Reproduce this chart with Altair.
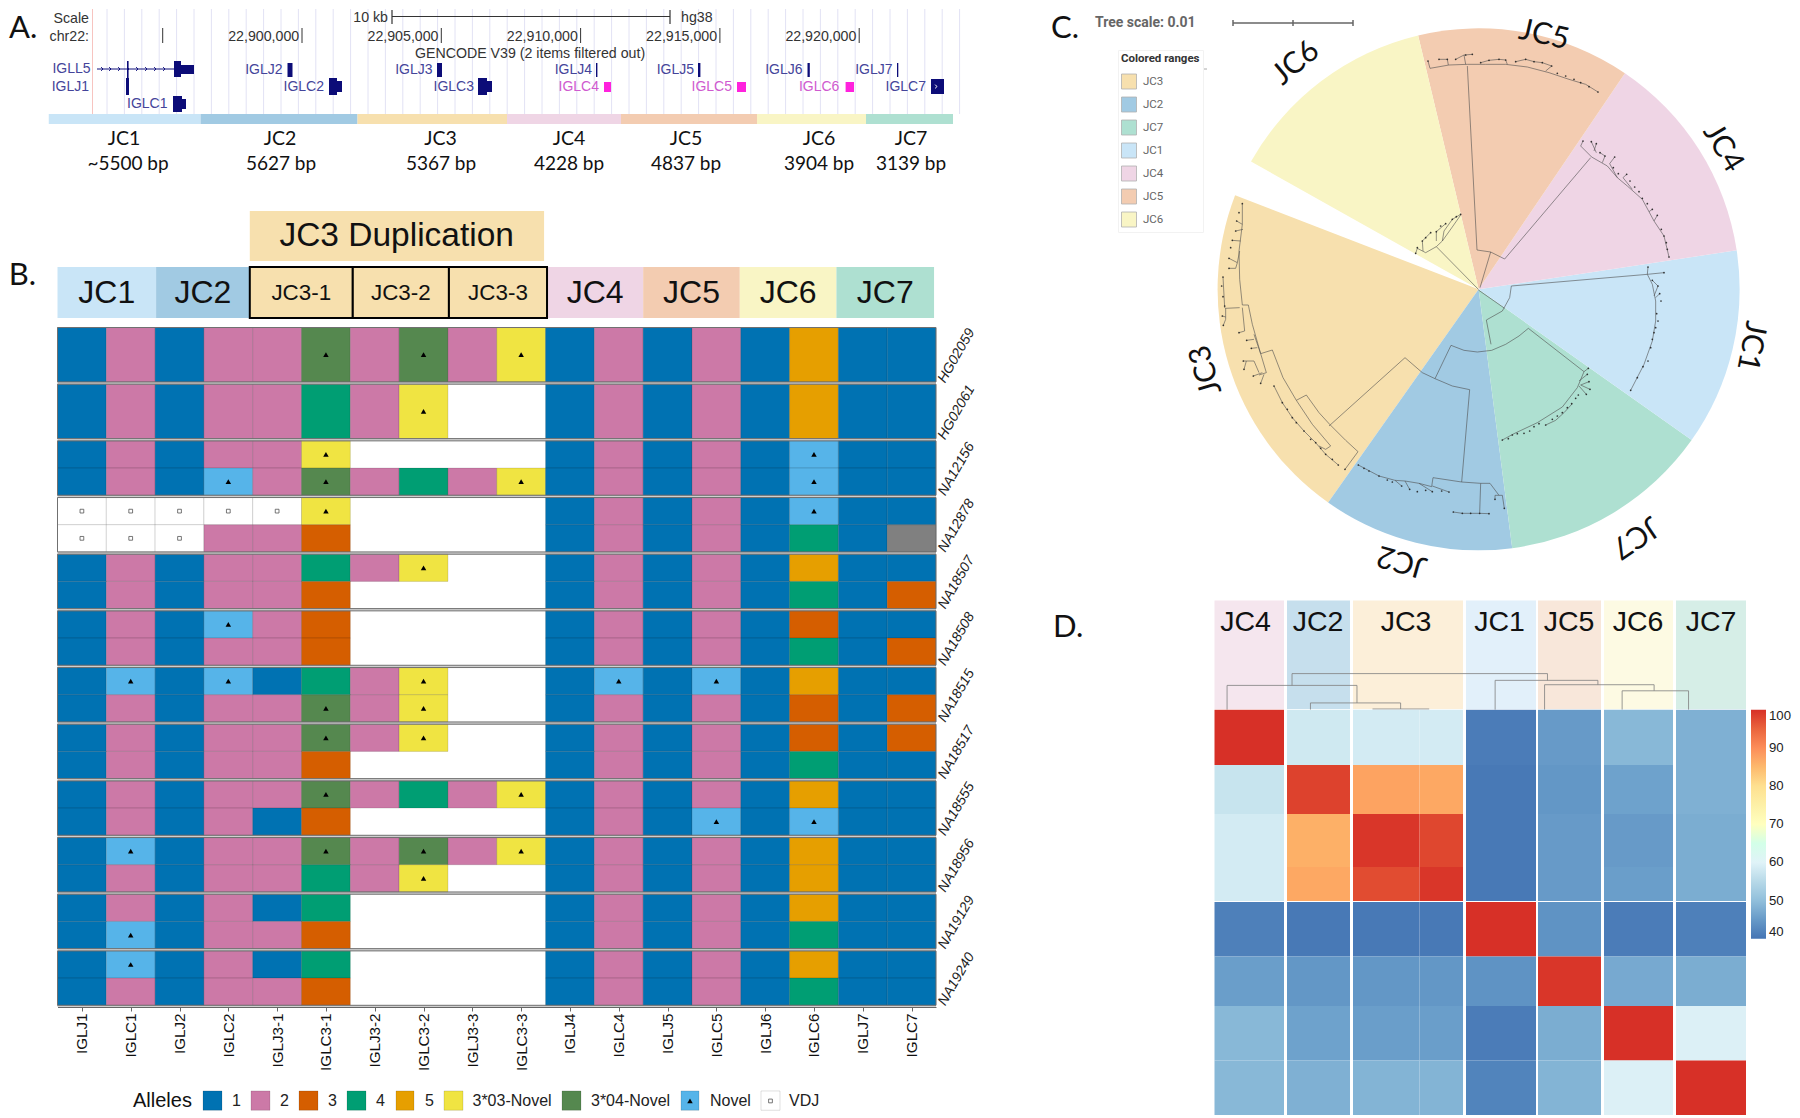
import json
import numpy as np
import pandas as pd
import altair as alt

ARIAL = "Liberation Sans"
LATO = "Lato"

# ---------- shared palettes ----------
JC_NAMES = ["JC1", "JC2", "JC3", "JC4", "JC5", "JC6", "JC7"]
JC_COLORS = ["#c9e5f7", "#a1cae3", "#f7e0ae", "#efd5e5", "#f3ccb1", "#f9f5c5", "#aee0d1"]
JC_FILL = dict(zip(JC_NAMES, JC_COLORS))


def texts(rows, xs, ys, xa=None, ya=None, **mark):
    df = pd.DataFrame(rows, columns=["x", "y", "t"])
    return alt.Chart(df).mark_text(**mark).encode(
        x=alt.X("x:Q", scale=xs, axis=xa, title=None),
        y=alt.Y("y:Q", scale=ys, axis=ya, title=None),
        text="t:N",
    )


def rules(rows, xs, ys, **mark):
    df = pd.DataFrame(rows, columns=["x", "x2", "y", "y2"])
    return alt.Chart(df).mark_rule(**mark).encode(
        x=alt.X("x:Q", scale=xs, axis=None), x2="x2:Q",
        y=alt.Y("y:Q", scale=ys, axis=None), y2="y2:Q",
    )


def rects(rows, xs, ys, xa=None, ya=None, **mark):
    df = pd.DataFrame(rows, columns=["x", "x2", "y", "y2"])
    return alt.Chart(df).mark_rect(**mark).encode(
        x=alt.X("x:Q", scale=xs, axis=xa, title=None), x2="x2:Q",
        y=alt.Y("y:Q", scale=ys, axis=ya, title=None), y2="y2:Q",
    )


# ======================= PANEL A : genome browser =======================
def bp(px):
    return 22900000 + (px - 302) * 35.894


A_W, A_H = 972, 196
ax = alt.Scale(domain=[bp(8), bp(980)], nice=False, zero=False)
ay = alt.Scale(domain=[8, 204], reverse=True, nice=False, zero=False)

A_TICKS = [22895000, 22900000, 22905000, 22910000, 22915000, 22920000]
A_TICK_LABELS = ["22,900,000", "22,905,000", "22,910,000", "22,915,000", "22,920,000"]

grid_bp = [bp(p) for p in np.arange(107.0, 972.0, 17.4)]
a_grid = rules([[g, g, 8, 113] for g in grid_bp], ax, ay, color="#e2e2f4", strokeWidth=1)
a_pink = rules([[bp(92.5), bp(92.5), 8, 113]], ax, ay, color="#f7c4c0", strokeWidth=1)

a_scale = rules([[bp(392), bp(670), 15.5, 15.5], [bp(392), bp(392), 9, 23], [bp(670), bp(670), 9, 23]],
                ax, ay, color="#333333", strokeWidth=1.2)
a_ticks = rules([[t, t, 27, 42] for t in A_TICKS], ax, ay, color="#333333", strokeWidth=1)

a_t_right = texts(
    [[bp(89), 18, "Scale"], [bp(388), 17, "10 kb"], [bp(89), 36, "chr22:"]]
    + [[t - 100, 36, l] for t, l in zip(A_TICKS[1:], A_TICK_LABELS)],
    ax, ay, font=ARIAL, fontSize=14.2, align="right", baseline="middle", color="#333333")
a_t_left = texts([[bp(681), 17, "hg38"]], ax, ay, font=ARIAL, fontSize=14.2, align="left", baseline="middle", color="#333333")
a_t_center = texts([[bp(530), 52.5, "GENCODE V39 (2 items filtered out)"]], ax, ay, font=ARIAL, fontSize=14.2,
                   align="center", baseline="middle", color="#333333")

GENE_LABELS = [("IGLL5", 90.6, 68), ("IGLJ1", 89, 86), ("IGLC1", 167.5, 103), ("IGLJ2", 282.5, 69), ("IGLC2", 324, 86),
               ("IGLJ3", 432.5, 69), ("IGLC3", 474, 86), ("IGLJ4", 592, 69), ("IGLJ5", 694, 69),
               ("IGLJ6", 802.5, 69), ("IGLJ7", 892.5, 69), ("IGLC7", 926, 86)]
PINK_LABELS = [("IGLC4", 599, 86), ("IGLC5", 732, 86), ("IGLC6", 839.4, 86)]
a_gl = texts([[bp(p), y, n] for n, p, y in GENE_LABELS], ax, ay, font=ARIAL, fontSize=14, align="right",
             baseline="middle", color="#44449a")
a_pl = texts([[bp(p), y, n] for n, p, y in PINK_LABELS], ax, ay, font=ARIAL, fontSize=14, align="right",
             baseline="middle", color="#cf5acf")

NAVY_BOXES = [(126, 129, 77, 94), (127, 128.6, 60, 77), (174, 181, 60, 76), (181, 194, 64, 73),
              (173, 182, 95, 111), (182, 186, 98, 108),
              (287.5, 292.5, 62, 76), (329, 337, 77, 94), (337, 342, 80, 91),
              (437, 442, 62, 76), (478, 487, 77, 94), (487, 492, 80, 91),
              (596, 597.4, 62, 76), (698, 700.4, 62, 76), (807.5, 809.8, 62, 76), (897, 898.3, 62, 76),
              (931, 944, 78, 93)]
PINK_BOXES = [(604, 611, 81, 91), (737, 746, 81, 91), (845.6, 854, 81, 91)]
a_line = rules([[bp(97), bp(174), 68, 68]], ax, ay, color="#10107c", strokeWidth=1)
a_navy = rects([[bp(a), bp(b), c, d] for a, b, c, d in NAVY_BOXES], ax, ay, color="#0c0c78")
a_pb = rects([[bp(a), bp(b), c, d] for a, b, c, d in PINK_BOXES], ax, ay, color="#ff22dd")
CHEV = [103, 111, 120, 129, 138, 147, 156, 165]
a_chev = alt.Chart(pd.DataFrame({"x": [bp(p) for p in CHEV], "y": [68] * len(CHEV)})).mark_point(
    shape="M-1,-1L0,0L-1,1", size=14, filled=False, color="#10107c", strokeWidth=1, opacity=1).encode(
    x=alt.X("x:Q", scale=ax, axis=None), y=alt.Y("y:Q", scale=ay, axis=None))
a_chev2 = alt.Chart(pd.DataFrame({"x": [bp(937)], "y": [85.5]})).mark_point(
    shape="M-1,-1L0,0L-1,1", size=14, filled=False, color="#ffffff", strokeWidth=1, opacity=1).encode(
    x=alt.X("x:Q", scale=ax, axis=None), y=alt.Y("y:Q", scale=ay, axis=None))

A_STRIP = [48.75, 200.6, 357.5, 507, 621, 757, 866, 953]
A_BP = ["~5500 bp", "5627 bp", "5367 bp", "4228 bp", "4837 bp", "3904 bp", "3139 bp"]
A_NAME_X = [124, 280, 440.6, 569, 686, 819, 911]
A_BP_X = [128, 281, 441, 569, 686, 819, 911]
strip_df = pd.DataFrame({"x": [bp(p) for p in A_STRIP[:-1]], "x2": [bp(p) for p in A_STRIP[1:]],
                         "y": [113] * 7, "y2": [123] * 7, "jc": JC_NAMES})
a_strip = alt.Chart(strip_df).mark_rect().encode(
    x=alt.X("x:Q", scale=ax, axis=None), x2="x2:Q",
    y=alt.Y("y:Q", scale=ay, axis=None), y2="y2:Q",
    color=alt.Color("jc:N", scale=alt.Scale(domain=JC_NAMES, range=JC_COLORS), legend=None))
a_names = texts([[bp(p), 138, n] for p, n in zip(A_NAME_X, JC_NAMES)], ax, ay, font=LATO, fontSize=19.5,
                align="center", baseline="middle", color="#111111")
a_bps = texts([[bp(p), 163, n] for p, n in zip(A_BP_X, A_BP)], ax, ay, font=LATO, fontSize=19,
              align="center", baseline="middle", color="#111111")
a_letter = texts([[bp(9), 28, "A."]], ax, ay, font=LATO, fontSize=31, align="left", baseline="middle", color="#111111")

panel_a = alt.layer(a_grid, a_pink, a_scale, a_ticks, a_t_right, a_t_left, a_t_center, a_gl, a_pl, a_line, a_chev,
                    a_navy, a_pb, a_chev2, a_strip, a_names, a_bps, a_letter).properties(width=A_W, height=A_H)

# ======================= PANEL B : allele grid =======================
GENES = ["IGLJ1", "IGLC1", "IGLJ2", "IGLC2", "IGLJ3-1", "IGLC3-1", "IGLJ3-2", "IGLC3-2", "IGLJ3-3", "IGLC3-3",
         "IGLJ4", "IGLC4", "IGLJ5", "IGLC5", "IGLJ6", "IGLC6", "IGLJ7", "IGLC7"]
SAMPLES = ["HG02059", "HG02061", "NA12156", "NA12878", "NA18507", "NA18508", "NA18515", "NA18517", "NA18555",
           "NA18956", "NA19129", "NA19240"]
# 1-5 alleles, Y 3*03-Novel, G 3*04-Novel, N Novel, V VDJ, X other, 0 empty
HAPS = [
    ["1 2 1 2 2 G 2 G 2 Y 1 2 1 2 1 5 1 1"],
    ["1 2 1 2 2 4 2 Y 0 0 1 2 1 2 1 5 1 1"],
    ["1 2 1 2 2 Y 0 0 0 0 1 2 1 2 1 N 1 1", "1 2 1 N 2 G 2 4 2 Y 1 2 1 2 1 N 1 1"],
    ["V V V V V Y 0 0 0 0 1 2 1 2 1 N 1 1", "V V V 2 2 3 0 0 0 0 1 2 1 2 1 4 1 X"],
    ["1 2 1 2 2 4 2 Y 0 0 1 2 1 2 1 5 1 1", "1 2 1 2 2 3 0 0 0 0 1 2 1 2 1 4 1 3"],
    ["1 2 1 N 2 3 0 0 0 0 1 2 1 2 1 3 1 1", "1 2 1 2 2 3 0 0 0 0 1 2 1 2 1 4 1 3"],
    ["1 N 1 N 1 4 2 Y 0 0 1 N 1 N 1 5 1 1", "1 2 1 2 2 G 2 Y 0 0 1 2 1 2 1 3 1 3"],
    ["1 2 1 2 2 G 2 Y 0 0 1 2 1 2 1 3 1 3", "1 2 1 2 2 3 0 0 0 0 1 2 1 2 1 4 1 1"],
    ["1 2 1 2 2 G 2 4 2 Y 1 2 1 2 1 5 1 1", "1 2 1 2 1 3 0 0 0 0 1 2 1 N 1 N 1 1"],
    ["1 N 1 2 2 G 2 G 2 Y 1 2 1 2 1 5 1 1", "1 2 1 2 2 4 2 Y 0 0 1 2 1 2 1 5 1 1"],
    ["1 2 1 2 1 4 0 0 0 0 1 2 1 2 1 5 1 1", "1 N 1 2 2 3 0 0 0 0 1 2 1 2 1 4 1 1"],
    ["1 N 1 2 1 4 0 0 0 0 1 2 1 2 1 5 1 1", "1 2 1 2 2 3 0 0 0 0 1 2 1 2 1 4 1 1"],
]
ALLELE_NAME = {"1": "1", "2": "2", "3": "3", "4": "4", "5": "5", "Y": "3*03-Novel", "G": "3*04-Novel",
               "N": "Novel", "V": "VDJ"}
ALLELES = ["1", "2", "3", "4", "5", "3*03-Novel", "3*04-Novel", "Novel", "VDJ"]
ALLELE_COLORS = ["#0072b2", "#cc79a7", "#d55e00", "#009e73", "#e69f00", "#f0e442", "#55884f", "#56b4e9", "#ffffff"]

B_W, B_H = 928, 802
bx = alt.Scale(domain=[0, 18], range=[49.5, 928], nice=False, zero=False)
by = alt.Scale(domain=[-2.152, 12], reverse=True, nice=False, zero=False)


def col(px):
    return (px - 57.5) / 48.806


def row(py):
    return (py - 326.0) / 56.67


x_label_expr = "{}[round(datum.value - 0.5)]".format(json.dumps(GENES))
y_label_expr = "{}[round(datum.value - 0.5)]".format(json.dumps(SAMPLES))
BXA = alt.Axis(values=[i + 0.5 for i in range(18)], labelExpr=x_label_expr, labelAngle=270, labelAlign="right",
               labelBaseline="middle", labelFont=ARIAL, labelFontSize=15.2, labelColor="#111111", labelPadding=2,
               tickColor="#666666", tickSize=4, domainColor="#666666", grid=False, labelOverlap=False,
               labelBound=False)
BYA = alt.Axis(orient="right", values=[i + 0.5 for i in range(12)], labelExpr=y_label_expr, labelAngle=300,
               labelAlign="center", labelBaseline="middle", labelFont=ARIAL, labelFontSize=14,
               labelFontStyle="italic", labelColor="#222222", labelPadding=20, ticks=False, domain=False, grid=False,
               labelOverlap=False, labelBound=False)
B_AX = {"xa": BXA, "ya": BYA}

cells, tri, squ, gray = [], [], [], []
for s, haps in enumerate(HAPS):
    n = len(haps)
    h_size = 0.96 / n
    for h, line in enumerate(haps):
        y0 = s + 0.01 + h * h_size
        for c, code in enumerate(line.split()):
            if code == "0":
                continue
            if code == "X":
                gray.append([c, c + 1, y0, y0 + h_size])
                continue
            cells.append({"x": c, "x2": c + 1, "y": y0, "y2": y0 + h_size, "allele": ALLELE_NAME[code],
                          "gene": GENES[c], "sample": SAMPLES[s]})
            if code in "YGN":
                tri.append({"x": c + 0.5, "y": y0 + h_size / 2})
            if code == "V":
                squ.append({"x": c + 0.5, "y": y0 + h_size / 2})

# allele key below the grid: swatches, labels
KEY_SWATCH = [(203, 222), (251, 270), (299, 318), (347, 366), (396, 414), (444, 463), (562, 581), (681, 699), (761, 780)]
KEY_LABEL_X = [232, 280, 328, 376, 425, 472.5, 591, 710, 789]
KEY_TOP, KEY_BOTTOM, KEY_MID = 1090, 1109.3, 1100
key_cells = [{"x": col(a), "x2": col(b), "y": row(KEY_TOP), "y2": row(KEY_BOTTOM), "allele": n, "gene": "", "sample": ""}
             for (a, b), n in zip(KEY_SWATCH, ALLELES)]
tri.append({"x": col(690), "y": row(KEY_MID)})
squ.append({"x": col(770.5), "y": row(KEY_MID)})

b_bg = rects([[0, 18, 0, 12]], bx, by, color="#cfcfcf", **B_AX)
b_white = rects([[0, 18, s + 0.01, s + 0.97] for s in range(12)], bx, by, color="#ffffff", **B_AX)
b_cells = alt.Chart(pd.DataFrame(cells + key_cells)).mark_rect(stroke="#000000", strokeOpacity=0.16, strokeWidth=0.8).encode(
    x=alt.X("x:Q", scale=bx, title=None, axis=BXA),
    x2="x2:Q",
    y=alt.Y("y:Q", scale=by, title=None, axis=BYA),
    y2="y2:Q",
    color=alt.Color("allele:N", scale=alt.Scale(domain=ALLELES, range=ALLELE_COLORS), legend=None),
)
b_key_text = texts([[col(p), row(KEY_MID), n] for p, n in zip(KEY_LABEL_X, ALLELES)], bx, by, font=ARIAL, fontSize=16,
                   align="left", baseline="middle", color="#222222", **B_AX)
b_key_title = texts([[col(133), row(KEY_MID), "Alleles"]], bx, by, font=ARIAL, fontSize=20, align="left",
                    baseline="middle", color="#111111", **B_AX)
b_gray = rects(gray, bx, by, color="#808080", stroke="#000000", strokeOpacity=0.16, **B_AX)
b_frame = rects([[0, 18, s + 0.01, s + 0.97] for s in range(12)], bx, by, fill=None, fillOpacity=0,
                stroke="#707070", strokeWidth=1, **B_AX)
b_tri = alt.Chart(pd.DataFrame(tri)).mark_point(shape="triangle-up", filled=True, color="#000000", size=30, opacity=1).encode(
    x=alt.X("x:Q", scale=bx, axis=BXA, title=None), y=alt.Y("y:Q", scale=by, axis=BYA, title=None))
b_squ = alt.Chart(pd.DataFrame(squ)).mark_point(shape="square", filled=True, fill="#ffffff", stroke="#555555", strokeWidth=0.8,
                                     size=14, opacity=1).encode(
    x=alt.X("x:Q", scale=bx, axis=BXA, title=None), y=alt.Y("y:Q", scale=by, axis=BYA, title=None))

HEAD_NAMES = ["JC1", "JC2", "JC4", "JC5", "JC6", "JC7"]
HEAD_SPANS = [(0, 2.02), (2.02, 3.94), (10.03, 12.0), (12.0, 13.98), (13.98, 15.96), (15.96, 17.96)]
DUP_NAMES = ["JC3-1", "JC3-2", "JC3-3"]
DUP_SPANS = [(3.94, 6.05), (6.05, 8.02), (8.02, 10.03)]
b_head = [rects([[a, b, -1.058, -0.159]], bx, by, color=JC_FILL[n], **B_AX) for (a, b), n in zip(HEAD_SPANS, HEAD_NAMES)]
b_dupbox = rects([[3.94, 9.97, -2.046, -1.164]], bx, by, color=JC_FILL["JC3"], **B_AX)
b_dup3 = rects([[a, b, -1.058, -0.159] for a, b in DUP_SPANS], bx, by, fill=JC_FILL["JC3"], stroke="#000000",
               strokeWidth=2, **B_AX)
b_htxt = texts([[(a + b) / 2, -0.605, n] for (a, b), n in zip(HEAD_SPANS, HEAD_NAMES)], bx, by, font=ARIAL,
               fontSize=32, align="center", baseline="middle", color="#111111", **B_AX)
b_dtxt = texts([[(a + b) / 2, -0.605, n] for (a, b), n in zip(DUP_SPANS, DUP_NAMES)], bx, by, font=ARIAL,
               fontSize=22.4, align="center", baseline="middle", color="#111111", **B_AX)
b_dup_t = texts([[6.95, -1.6, "JC3 Duplication"]], bx, by, font=ARIAL, fontSize=33.5, align="center",
                baseline="middle", color="#111111", **B_AX)
b_letter = texts([[-1.0, -0.9, "B."]], bx, by, font=LATO, fontSize=31, align="left", baseline="middle",
                 color="#111111", **B_AX)

panel_b = alt.layer(b_bg, b_white, b_cells, b_gray, b_frame, b_tri, b_squ, *b_head, b_dupbox, b_dup3, b_htxt, b_dtxt,
                    b_dup_t, b_letter, b_key_text, b_key_title).properties(width=B_W, height=B_H)

# ======================= PANEL C : fan tree =======================
C_W, C_H = 745, 582
CX, CY = 1479.6, 288.3
cxs = alt.Scale(domain=[1040 - CX, 1785 - CX], nice=False, zero=False)
cys = alt.Scale(domain=[CY - 590, CY - 8], nice=False, zero=False)


def fx(px):
    return px - CX


def fy(py):
    return CY - py


WEDGE_ORDER = ["JC3", "JC2", "JC7", "JC1", "JC4", "JC5", "JC6"]
WEDGE_START = [215.2, 172.6, 125.3, 81.4, 34.1, 346.6, 299.3]
WEDGE_END = [291.1, 215.2, 172.6, 125.3, 81.4, 394.1, 346.6]
WEDGE_R = 261
wdf = pd.DataFrame({"jc": WEDGE_ORDER, "a0": WEDGE_START, "a1": WEDGE_END, "cx": 0.0, "cy": 0.0, "r": WEDGE_R})
c_wedges = alt.Chart(wdf).mark_arc(innerRadius=0).encode(
    theta=alt.Theta("a0:Q", stack=None, scale=alt.Scale(domain=[0, 360], range=[0, 2 * np.pi])),
    theta2="a1:Q",
    radius=alt.Radius("r:Q", scale=None),
    x=alt.X("cx:Q", scale=cxs, axis=None),
    y=alt.Y("cy:Q", scale=cys, axis=None),
    color=alt.Color("jc:N", scale=alt.Scale(domain=WEDGE_ORDER, range=[JC_FILL[j] for j in WEDGE_ORDER]),
                    legend=alt.Legend(title="Colored ranges", orient="none", legendX=79, legendY=41,
                                      symbolType="square", symbolSize=225, symbolOpacity=1,
                                      symbolStrokeColor="#b0b0b0", symbolStrokeWidth=0.8, titleFont="Roboto",
                                      titleFontSize=11.5, titleFontWeight="bold", titleColor="#333333",
                                      titlePadding=9, labelFont="Roboto", labelFontSize=11.5, labelColor="#666666",
                                      labelOffset=6, rowPadding=3, padding=3, fillColor="#ffffff",
                                      strokeColor="#f2f2f2")),
)
c_div = rules([[fx(1122), fx(1208), fy(68), fy(68)]], cxs, cys, color="#aaaaaa", strokeWidth=1)

WEDGE_LABELS = [("JC5", 1545, 34, 13), ("JC4", 1724, 147, 59), ("JC1", 1752, 345, 101), ("JC7", 1636, 536, 146),
                ("JC2", 1403, 560, 196), ("JC3", 1207, 369, 254), ("JC6", 1297, 62, 320)]
ldf = pd.DataFrame({"x": [fx(a) for _, a, _, _ in WEDGE_LABELS], "y": [fy(b) for _, _, b, _ in WEDGE_LABELS],
                    "t": [n for n, *_ in WEDGE_LABELS], "rot": [r for *_, r in WEDGE_LABELS]})
c_labels = alt.Chart(ldf).mark_text(font=LATO, fontSize=30, align="center", baseline="middle", color="#111111").encode(
    x=alt.X("x:Q", scale=cxs, axis=None), y=alt.Y("y:Q", scale=cys, axis=None), text="t:N",
    angle=alt.Angle("rot:Q", scale=None))

Z6, Z7, Z8, Z9 = (1200, 40), (1480, 120), (1330, 280), (1210, 190)
BRANCHES = [
    (Z6, [(843, 740), (875, 633)]),
    (Z6, [(805, 75), (834, 627), (875, 633), (917, 654), (1175, 350)]),
    (Z6, [(838, 745), (712, 617)]),
    (Z6, [(693, 82), (750, 72), (805, 70), (860, 70), (920, 70), (985, 78), (1050, 95), (1110, 115), (1160, 130), (1197, 153)]),
    (Z6, [(687, 60), (693, 82)]), (Z6, [(720, 55), (745, 55), (748, 72)]), (Z6, [(770, 55), (795, 42), (820, 40)]),
    (Z6, [(795, 42), (800, 70)]), (Z6, [(845, 65), (870, 58), (900, 55), (920, 57), (925, 70)]),
    (Z6, [(950, 62), (980, 55), (1005, 62), (1030, 65), (1058, 75), (1040, 90)]),
    (Z6, [(680, 635), (712, 617), (730, 600), (762, 555), (785, 522)]),
    (Z6, [(680, 635), (655, 622), (650, 637)]), (Z6, [(672, 630), (670, 600), (695, 575)]),
    (Z6, [(712, 600), (712, 572), (740, 548)]), (Z6, [(730, 600), (735, 570), (760, 535), (785, 520)]),
    (Z7, [(305, 75), (338, 108), (385, 135), (415, 170), (445, 195), (490, 235), (525, 300), (555, 345), (570, 408)]),
    (Z7, [(312, 60), (305, 75)]), (Z7, [(337, 62), (352, 95)]), (Z7, [(352, 68), (345, 90)]),
    (Z7, [(363, 95), (378, 105), (370, 125)]), (Z7, [(407, 108), (392, 128), (415, 170)]),
    (Z7, [(443, 160), (432, 170), (460, 205)]), (Z7, [(520, 265), (510, 272)]), (Z7, [(535, 283), (525, 300)]),
    (Z7, [(22, 597), (36, 670)]),
    (Z7, [(22, 597), (70, 570), (92, 530), (97, 495), (505, 460)]),
    (Z7, [(507, 438), (505, 460), (555, 455)]),
    (Z7, [(505, 460), (520, 490), (530, 540), (530, 600), (520, 660), (495, 730), (455, 808)]),
    (Z7, [(520, 478), (537, 495), (525, 525)]), (Z7, [(542, 518), (530, 530)]),
    (Z8, [(448, 27), (527, 82)]),
    (Z8, [(366, 193), (405, 208), (445, 213), (488, 208), (530, 190), (570, 165), (598, 142), (765, 272)]),
    (Z8, [(765, 272), (745, 320), (700, 378), (625, 425), (555, 458), (520, 477)]),
    (Z8, [(778, 262), (765, 272)]), (Z8, [(775, 280), (750, 300)]), (Z8, [(780, 302), (755, 312), (783, 325)]),
    (Z8, [(772, 340), (750, 315)]), (Z8, [(650, 432), (680, 418), (705, 395), (730, 368)]),
    (Z8, [(366, 193), (318, 293)]),
    (Z8, [(228, 230), (280, 275), (318, 293), (370, 315), (422, 326), (398, 603)]),
    (Z8, [(308, 617), (312, 590), (398, 603), (455, 607), (483, 607), (510, 643)]),
    (Z8, [(308, 617), (270, 607), (228, 600), (198, 598), (150, 585), (88, 552)]),
    (Z8, [(228, 600), (242, 625)]), (Z8, [(270, 607), (310, 632)]), (Z8, [(198, 598), (218, 615)]),
    (Z8, [(310, 615), (360, 633)]),
    (Z8, [(455, 607), (452, 695)]), (Z8, [(373, 693), (400, 697), (452, 697), (480, 698)]),
    (Z8, [(498, 655), (498, 643), (520, 643), (526, 682)]),
    (Z8, [(228, 230), (0, 435)]),
    (Z9, [(292, 612), (330, 665), (362, 700), (410, 748), (447, 782), (408, 835)]),
    (Z9, [(292, 612), (262, 628)]),
    (Z9, [(155, 488), (190, 477), (222, 560), (262, 628), (310, 700), (365, 765), (350, 775)]),
    (Z9, [(195, 585), (220, 635), (250, 680), (285, 720), (320, 755), (350, 790), (388, 822)]),
    (Z9, [(350, 775), (330, 765)]),
    (Z9, [(118, 342), (130, 400), (155, 488), (172, 545), (150, 552)]),
    (Z9, [(118, 342), (100, 342), (92, 265), (90, 180), (100, 100), (100, 40)]),
    (Z9, [(83, 90), (100, 100)]), (Z9, [(80, 120), (102, 115)]), (Z9, [(70, 148), (95, 150)]),
    (Z9, [(60, 202), (85, 215), (80, 232), (60, 232)]), (Z9, [(85, 215), (92, 180)]),
    (Z9, [(92, 350), (50, 352), (47, 350), (42, 258)]), (Z9, [(50, 352), (50, 385), (43, 403)]),
    (Z9, [(40, 375), (50, 378)]),
    (Z9, [(90, 425), (107, 420), (100, 350)]), (Z9, [(113, 448), (135, 445)]), (Z9, [(127, 472), (145, 470)]),
    (Z9, [(135, 430), (155, 488)]), (Z9, [(103, 510), (135, 510), (150, 545)]), (Z9, [(105, 535), (112, 510)]),
    (Z9, [(133, 555), (160, 545)]), (Z9, [(155, 577), (165, 550)]),
]
TIPS = [
    (Z6, [(687, 60), (720, 55), (745, 55), (770, 55), (800, 42), (820, 40), (845, 65), (870, 58), (900, 55), (920, 57),
          (950, 62), (980, 55), (1005, 62), (1030, 65), (1058, 75), (1075, 97), (1100, 105), (1125, 115), (1145, 125),
          (1170, 137), (1197, 153), (650, 637), (655, 620), (670, 600), (680, 590), (695, 575), (712, 572), (725, 555),
          (740, 548), (760, 535), (772, 527), (785, 520)]),
    (Z7, [(312, 60), (337, 62), (352, 68), (363, 95), (378, 105), (407, 108), (403, 140), (418, 158), (443, 160),
          (453, 180), (467, 198), (480, 212), (490, 232), (505, 248), (520, 265), (535, 283), (547, 325), (555, 345),
          (562, 365), (565, 385), (570, 408), (507, 438), (555, 455), (520, 478), (537, 495), (542, 518), (546, 540),
          (533, 578), (537, 600), (530, 620), (525, 635), (520, 655), (515, 680), (507, 720), (492, 737), (475, 770),
          (455, 808)]),
    (Z8, [(778, 262), (775, 280), (780, 302), (783, 325), (772, 340), (748, 342), (740, 352), (728, 368), (715, 380),
          (700, 395), (685, 405), (670, 415), (650, 432), (630, 428), (615, 437), (602, 450), (585, 457), (565, 458),
          (550, 462), (538, 473), (520, 477), (88, 552), (105, 562), (120, 570), (150, 585), (175, 597), (190, 603),
          (218, 615), (242, 625), (265, 632), (290, 628), (310, 632), (338, 630), (360, 633), (373, 693), (400, 697),
          (425, 697), (452, 697), (480, 698), (498, 655), (526, 682)]),
    (Z9, [(100, 38), (90, 65), (83, 90), (80, 120), (70, 148), (65, 170), (60, 202), (60, 232), (42, 258), (38, 285),
          (42, 317), (47, 345), (40, 375), (43, 403), (90, 425), (113, 448), (127, 472), (103, 510), (105, 535),
          (133, 555), (155, 577), (195, 585), (220, 635), (235, 655), (250, 680), (262, 695), (285, 720), (305, 745),
          (320, 755), (335, 772), (350, 790), (370, 805), (388, 822), (408, 835)]),
]
tree_rows = []
for i, (o, pts) in enumerate(BRANCHES):
    for k, (a, b) in enumerate(pts):
        tree_rows.append({"x": fx(o[0] + a / 3), "y": fy(o[1] + b / 3), "branch": i, "k": k})
c_tree = alt.Chart(pd.DataFrame(tree_rows)).mark_line(color="#4d4d4d", strokeWidth=0.7, opacity=0.85).encode(
    x=alt.X("x:Q", scale=cxs, axis=None), y=alt.Y("y:Q", scale=cys, axis=None),
    detail="branch:N", order="k:Q")
tip_rows = [{"x": fx(o[0] + a / 3), "y": fy(o[1] + b / 3)} for o, pts in TIPS for a, b in pts]
c_tips = alt.Chart(pd.DataFrame(tip_rows)).mark_circle(color="#222222", size=3, opacity=0.9).encode(
    x=alt.X("x:Q", scale=cxs, axis=None), y=alt.Y("y:Q", scale=cys, axis=None))

c_bar = rules([[fx(1234), fx(1354), fy(22), fy(22)], [fx(1234), fx(1234), fy(19), fy(25)],
               [fx(1294), fx(1294), fy(19), fy(25)], [fx(1354), fx(1354), fy(19), fy(25)]],
              cxs, cys, color="#666666", strokeWidth=1.5)
c_scale_t = texts([[fx(1096), fy(22), "Tree scale: 0.01"]], cxs, cys, font="Roboto", fontSize=14, fontWeight="bold",
                  align="left", baseline="middle", color="#666666")
c_letter = texts([[fx(1052), fy(28), "C."]], cxs, cys, font=LATO, fontSize=31, align="left", baseline="middle",
                 color="#111111")
panel_c = alt.layer(c_wedges, c_tree, c_tips, c_labels, c_bar, c_scale_t, c_letter, c_div).properties(
    width=C_W, height=C_H)

# ======================= PANEL D : heatmap =======================
D_W, D_H = 745, 524
dxs = alt.Scale(domain=[1040, 1785], nice=False, zero=False)
dys = alt.Scale(domain=[590, 1114], reverse=True, nice=False, zero=False)

D_COL_NAMES = ["JC4", "JC2", "JC3", "JC1", "JC5", "JC6", "JC7"]
D_COL_SPANS = [(1215.5, 1285), (1288, 1351), (1354, 1464), (1467, 1537), (1539, 1602), (1605, 1674), (1677, 1747)]
D_COL_LIGHT = ["#f5e6ee", "#c6dfed", "#fcefd9", "#e2f0fa", "#f8e7da", "#fdfae3", "#d6eee7"]
D_NAME_X = [1246.5, 1319, 1407, 1500.5, 1570, 1639, 1712]
D_X_EDGES = [(1215.5, 1285), (1288, 1351), (1354, 1420.5), (1420.5, 1464), (1467, 1537), (1539, 1602), (1605, 1674),
             (1677, 1747)]
D_Y_EDGES = [(708.7, 764), (764, 813), (813, 866), (866, 900), (901, 955.5), (955.5, 1005), (1005, 1059.6),
             (1059.6, 1114)]
D_VALUES = [
    [100, 58, 58.5, 58.5, 41, 45, 49, 48],
    [57, 98.5, 87.5, 87, 40.5, 44.5, 46, 48],
    [58.5, 86, 99.5, 98, 40.5, 45, 45, 47.5],
    [58.5, 87, 97.5, 99.5, 40.5, 45, 45.5, 47.5],
    [41.5, 40.5, 40.5, 40.5, 100, 44, 41, 41.5],
    [45.5, 44.5, 44.5, 44.5, 44, 99.5, 47, 47.5],
    [49, 46, 45.5, 45.5, 41, 47.5, 100, 59.5],
    [49, 48, 48.5, 48.5, 42, 48.5, 59.5, 100],
]
HEAT_STOPS = [40, 50, 60, 70, 80, 90, 100]
HEAT_COLORS = ["#4575b4", "#91bfdb", "#e0f3f8", "#ffffbf", "#fee090", "#fc8d59", "#d73027"]

d_rows = []
for (y0, y1), vals in zip(D_Y_EDGES, D_VALUES):
    for (x0, x1), v in zip(D_X_EDGES, vals):
        d_rows.append({"x": x0, "x2": x1, "y": y0, "y2": y1, "v": v})
d_heat = alt.Chart(pd.DataFrame(d_rows)).mark_rect().encode(
    x=alt.X("x:Q", scale=dxs, axis=None), x2="x2:Q",
    y=alt.Y("y:Q", scale=dys, axis=None), y2="y2:Q",
    color=alt.Color("v:Q", scale=alt.Scale(domain=HEAT_STOPS, range=HEAT_COLORS), legend=alt.Legend(
        title=None, orient="none", legendX=712, legendY=118.7, direction="vertical", gradientLength=229,
        gradientThickness=15, values=HEAT_STOPS, labelFont=ARIAL, labelFontSize=13.2, labelColor="#222222",
        labelOffset=3, tickCount=7, padding=0)),
)
d_strip = [rects([[a, b, 599.4, 708]], dxs, dys, color=c) for (a, b), c in zip(D_COL_SPANS, D_COL_LIGHT)]


def zx(z):
    return 1040 + z / 2.063


def zy(z):
    return 590 + z / 2.966


D_TREE = [
    (522, 1049, 245, 245), (522, 522, 245, 280), (1049, 1049, 245, 265), (388, 656, 280, 280), (388, 388, 280, 352),
    (656, 656, 280, 332), (560, 746, 332, 332), (560, 560, 332, 352), (746, 746, 332, 350), (688, 805, 350, 350),
    (941, 1153, 265, 265), (941, 941, 265, 352), (1153, 1153, 265, 278), (1043, 1269, 278, 278), (1043, 1043, 278, 352),
    (1269, 1269, 278, 296), (1203, 1340, 296, 296), (1203, 1203, 296, 352), (1340, 1340, 296, 352),
]
d_tree = rules([[zx(a), zx(b), zy(c), zy(d)] for a, b, c, d in D_TREE], dxs, dys, color="#808080", strokeWidth=1,
               opacity=0.8)
d_names = texts([[p, 621, n] for p, n in zip(D_NAME_X, D_COL_NAMES)], dxs, dys, font=ARIAL, fontSize=28.5,
                align="center", baseline="middle", color="#111111")
d_letter = texts([[1054, 627, "D."]], dxs, dys, font=LATO, fontSize=31, align="left", baseline="middle",
                 color="#111111")
panel_d = alt.layer(*d_strip, d_tree, d_heat, d_names, d_letter).properties(width=D_W, height=D_H)

# ======================= layout =======================
left = alt.vconcat(panel_a, panel_b, spacing=0, bounds="flush").resolve_scale(color="independent")
right = alt.vconcat(panel_c, panel_d, spacing=0, bounds="flush").resolve_scale(color="independent")
chart = alt.hconcat(left, right, spacing=59).resolve_scale(color="independent").properties(padding=0).configure_view(strokeWidth=0)
chart.save("out.html", embed_options={"renderer": "svg", "actions": False})
